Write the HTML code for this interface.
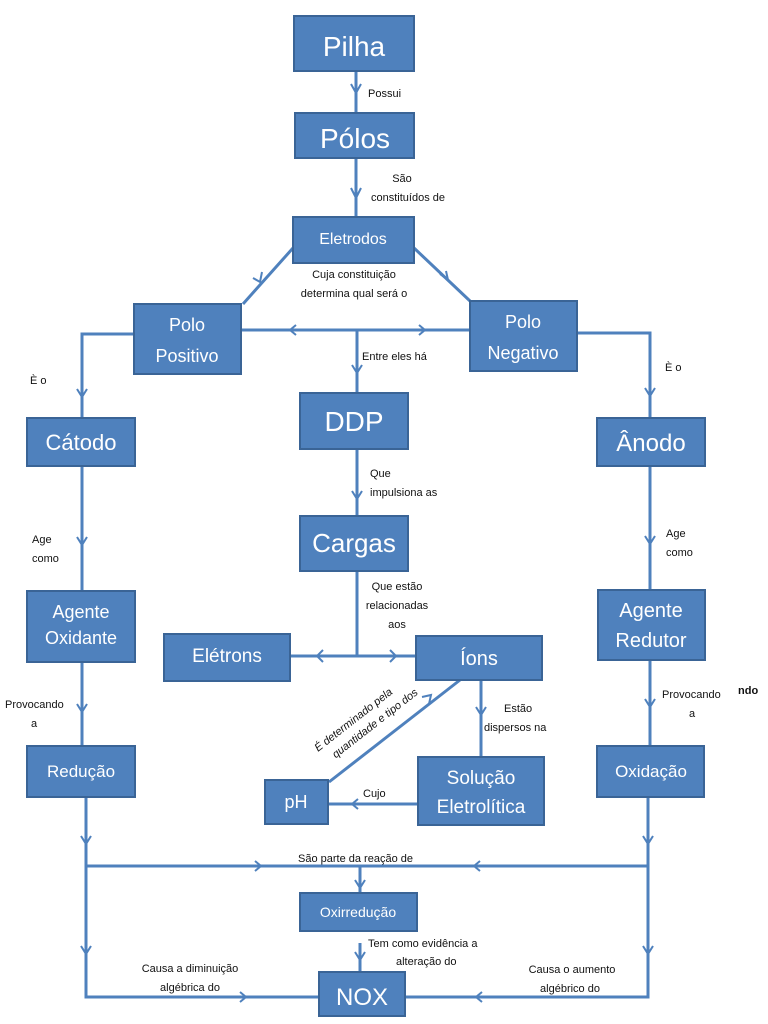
<!DOCTYPE html>
<html><head><meta charset="utf-8"><style>
html,body{margin:0;padding:0;background:#fff;}
svg{display:block;}
.b{fill:#4f81bd;stroke:#3a6496;stroke-width:2;}
.l{stroke:#4f81bd;stroke-width:3;fill:none;}
.a{stroke:#4f81bd;stroke-width:2;fill:none;}
.t{fill:#fff;font-family:"Liberation Sans",sans-serif;text-anchor:middle;}
.s{fill:#111;font-family:"Liberation Sans",sans-serif;font-size:11px;}
</style></head><body>
<svg width="768" height="1024" viewBox="0 0 768 1024" xmlns="http://www.w3.org/2000/svg">
<!-- lines -->
<g class="l">
<line x1="356" y1="71" x2="356" y2="112"/>
<line x1="356" y1="158" x2="356" y2="217"/>
<line x1="293" y1="248" x2="243" y2="304"/>
<line x1="414" y1="248" x2="470" y2="301"/>
<line x1="241" y1="330" x2="470" y2="330"/>
<line x1="357" y1="330" x2="357" y2="393"/>
<polyline points="134,334 82,334 82,418"/>
<polyline points="577,333 650,333 650,418"/>
<line x1="82" y1="466" x2="82" y2="591"/>
<line x1="650" y1="466" x2="650" y2="590"/>
<line x1="82" y1="662" x2="82" y2="745"/>
<line x1="650" y1="660" x2="650" y2="745"/>
<line x1="357" y1="449" x2="357" y2="516"/>
<line x1="357" y1="571" x2="357" y2="656"/>
<line x1="290" y1="656" x2="416" y2="656"/>
<line x1="460" y1="680" x2="329" y2="782"/>
<line x1="481" y1="680" x2="481" y2="757"/>
<line x1="417" y1="804" x2="329" y2="804"/>
<polyline points="86,797 86,997 319,997"/>
<polyline points="648,797 648,997 405,997"/>
<line x1="86" y1="866" x2="648" y2="866"/>
<line x1="360" y1="866" x2="360" y2="893"/>
<line x1="360" y1="943" x2="360" y2="972"/>
</g>
<!-- arrowheads -->
<g class="a">
<polyline points="351,84 356,93 361,84"/>
<polyline points="351,188 356,198 361,188"/>
<polyline points="253,278 260,282 262,272"/>
<polyline points="440,274 448,280 446,271"/>
<polyline points="296,325 290,330 296,335"/>
<polyline points="281,325 287,330 281,335" transform="translate(-200,0)" stroke="none"/>
<polyline points="279,325 285,330 279,335" stroke="none"/>
<polyline points="419,325 425,330 419,335"/>
<polyline points="352,365 357,373 362,365"/>
<polyline points="77,389 82,397 87,389"/>
<polyline points="645,388 650,396 655,388"/>
<polyline points="77,537 82,545 87,537"/>
<polyline points="645,536 650,544 655,536"/>
<polyline points="77,704 82,712 87,704"/>
<polyline points="645,699 650,707 655,699"/>
<polyline points="352,491 357,499 362,491"/>
<polyline points="323,650 317,656 323,662"/>
<polyline points="390,650 396,656 390,662"/>
<polyline points="422,697 431,695 429,704"/>
<polyline points="476,707 481,715 486,707"/>
<polyline points="358,799 352,804 358,809"/>
<polyline points="81,836 86,844 91,836"/>
<polyline points="643,836 648,844 653,836"/>
<polyline points="81,946 86,954 91,946"/>
<polyline points="643,946 648,954 653,946"/>
<polyline points="255,861 261,866 255,871"/>
<polyline points="480,861 474,866 480,871"/>
<polyline points="355,880 360,888 365,880"/>
<polyline points="355,952 360,960 365,952"/>
<polyline points="240,992 246,997 240,1002"/>
<polyline points="482,992 476,997 482,1002"/>
</g>
<!-- boxes -->
<rect class="b" x="294" y="16" width="120" height="55"/>
<text class="t" x="354" y="56" font-size="28">Pilha</text>
<rect class="b" x="295" y="113" width="119" height="45"/>
<text class="t" x="355" y="148" font-size="28">Pólos</text>
<rect class="b" x="293" y="217" width="121" height="46"/>
<text class="t" x="353" y="244" font-size="16">Eletrodos</text>
<rect class="b" x="134" y="304" width="107" height="70"/>
<text class="t" x="187" y="331" font-size="18">Polo</text>
<text class="t" x="187" y="362" font-size="18">Positivo</text>
<rect class="b" x="470" y="301" width="107" height="70"/>
<text class="t" x="523" y="328" font-size="18">Polo</text>
<text class="t" x="523" y="359" font-size="18">Negativo</text>
<rect class="b" x="300" y="393" width="108" height="56"/>
<text class="t" x="354" y="431" font-size="28">DDP</text>
<rect class="b" x="27" y="418" width="108" height="48"/>
<text class="t" x="81" y="450" font-size="22">Cátodo</text>
<rect class="b" x="597" y="418" width="108" height="48"/>
<text class="t" x="651" y="451" font-size="24">Ânodo</text>
<rect class="b" x="300" y="516" width="108" height="55"/>
<text class="t" x="354" y="552" font-size="26">Cargas</text>
<rect class="b" x="27" y="591" width="108" height="71"/>
<text class="t" x="81" y="618" font-size="18">Agente</text>
<text class="t" x="81" y="644" font-size="18">Oxidante</text>
<rect class="b" x="598" y="590" width="107" height="70"/>
<text class="t" x="651" y="617" font-size="20">Agente</text>
<text class="t" x="651" y="647" font-size="20">Redutor</text>
<rect class="b" x="164" y="634" width="126" height="47"/>
<text class="t" x="227" y="662" font-size="19">Elétrons</text>
<rect class="b" x="416" y="636" width="126" height="44"/>
<text class="t" x="479" y="665" font-size="20">Íons</text>
<rect class="b" x="27" y="746" width="108" height="51"/>
<text class="t" x="81" y="777" font-size="17">Redução</text>
<rect class="b" x="597" y="746" width="107" height="51"/>
<text class="t" x="651" y="777" font-size="17">Oxidação</text>
<rect class="b" x="265" y="780" width="63" height="44"/>
<text class="t" x="296" y="808" font-size="18">pH</text>
<rect class="b" x="418" y="757" width="126" height="68"/>
<text class="t" x="481" y="784" font-size="19">Solução</text>
<text class="t" x="481" y="813" font-size="19">Eletrolítica</text>
<rect class="b" x="300" y="893" width="117" height="38"/>
<text class="t" x="358" y="917" font-size="14">Oxirredução</text>
<rect class="b" x="319" y="972" width="86" height="44"/>
<text class="t" x="362" y="1005" font-size="24">NOX</text>
<!-- labels -->
<text class="s" x="368" y="97">Possui</text>
<text class="s" x="402" y="182" text-anchor="middle">São</text>
<text class="s" x="371" y="201">constituídos de</text>
<text class="s" x="354" y="278" text-anchor="middle">Cuja constituição</text>
<text class="s" x="354" y="297" text-anchor="middle">determina qual será o</text>
<text class="s" x="362" y="360">Entre eles há</text>
<text class="s" x="30" y="384">È o</text>
<text class="s" x="665" y="371">È o</text>
<text class="s" x="370" y="477">Que</text>
<text class="s" x="370" y="496">impulsiona as</text>
<text class="s" x="32" y="543">Age</text>
<text class="s" x="32" y="562">como</text>
<text class="s" x="666" y="537">Age</text>
<text class="s" x="666" y="556">como</text>
<text class="s" x="397" y="590" text-anchor="middle">Que estão</text>
<text class="s" x="397" y="609" text-anchor="middle">relacionadas</text>
<text class="s" x="397" y="628" text-anchor="middle">aos</text>
<text class="s" x="5" y="708">Provocando</text>
<text class="s" x="31" y="727">a</text>
<text class="s" x="662" y="698">Provocando</text>
<text class="s" x="689" y="717">a</text>
<text class="s" x="738" y="694" font-weight="bold">ndo</text>
<text class="s" x="504" y="712">Estão</text>
<text class="s" x="484" y="731">dispersos na</text>
<text class="s" x="363" y="797">Cujo</text>
<g transform="translate(318,752) rotate(-38)">
<text class="s" x="0" y="0" font-style="italic">É determinado pela</text>
<text class="s" x="10" y="16" font-style="italic">quantidade e tipo dos</text>
</g>
<text class="s" x="298" y="862">São parte da reação de</text>
<text class="s" x="368" y="947">Tem como evidência a</text>
<text class="s" x="396" y="965">alteração do</text>
<text class="s" x="190" y="972" text-anchor="middle">Causa a diminuição</text>
<text class="s" x="190" y="991" text-anchor="middle">algébrica do</text>
<text class="s" x="572" y="973" text-anchor="middle">Causa o aumento</text>
<text class="s" x="570" y="992" text-anchor="middle">algébrico do</text>
</svg>
</body></html>
